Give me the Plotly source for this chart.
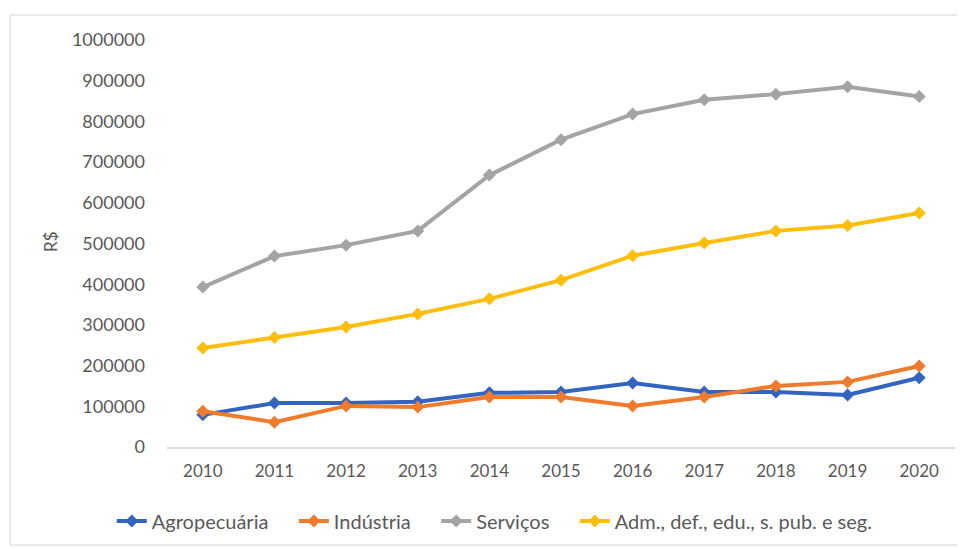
import plotly.graph_objects as go

anos = [2010, 2011, 2012, 2013, 2014, 2015, 2016, 2017, 2018, 2019, 2020]
agropecuaria = [79000, 108000, 108000, 111000, 133000, 135000, 157000, 135000, 135000, 128000, 170000]
industria = [88000, 61000, 101000, 98000, 123000, 123000, 101000, 123000, 150000, 160000, 199000]
servicos = [393000, 469000, 496000, 531000, 668000, 755000, 818000, 853000, 867000, 885000, 861000]
adm = [243000, 269000, 295000, 327000, 364000, 410000, 470000, 501000, 531000, 544000, 575000]

series = [
    ("Agropecuária", agropecuaria, "#3264c0"),
    ("Indústria", industria, "#f07b2c"),
    ("Serviços", servicos, "#a5a3a3"),
    ("Adm., def., edu., s. pub. e seg.", adm, "#ffbe0b"),
]

pad = "\u00a0" * 4  # extra room between legend entries
fig = go.Figure()
for i, (nome, vals, cor) in enumerate(series):
    fig.add_trace(go.Scatter(
        x=anos, y=vals, name=nome + (pad if i < len(series) - 1 else ""),
        mode="lines+markers",
        line=dict(color=cor, width=4),
        marker=dict(color=cor, size=10, symbol="diamond"),
    ))

# the page is offset by the body margin (~8px), so positions are shifted
fig.update_layout(
    width=965, height=549,
    margin=dict(l=159, r=18, t=32, b=110),
    paper_bgcolor="white", plot_bgcolor="white",
    font=dict(family="Lato", color="#595959", size=17),
    showlegend=True,
    legend=dict(orientation="h", x=0.416, xanchor="center", y=-0.182, yanchor="middle",
                font=dict(size=20, color="#595959"), itemwidth=30, tracegroupgap=0),
    xaxis=dict(range=[2009.5, 2020.5], tickmode="array", tickvals=anos,
               ticktext=[str(a) for a in anos], showgrid=False, showline=True,
               linecolor="#d9d9d9", linewidth=1.5, ticks="", zeroline=False,
               tickfont=dict(size=17, color="#595959"), ticklabelstandoff=8),
    yaxis=dict(range=[0, 1000000], dtick=100000, showgrid=False, zeroline=False,
               showline=False, tickformat="d", ticks="",
               tickfont=dict(size=18, color="#595959"), ticklabelstandoff=21),
    shapes=[dict(type="rect", xref="paper", yref="paper",
                 x0=(10 - 167) / 788, x1=(963 - 167) / 788,
                 y0=-(545 - 447) / 407, y1=1 + (40 - 15) / 407,
                 line=dict(color="#e6e2e2", width=1.5), layer="below")],
    annotations=[dict(text="R$", xref="paper", yref="paper",
                      x=(50 - 167) / 788, y=(447 - 242) / 407, textangle=-90,
                      showarrow=False, font=dict(size=17, color="#595959"),
                      xanchor="center", yanchor="middle")],
)

fig.write_html("out.html")
